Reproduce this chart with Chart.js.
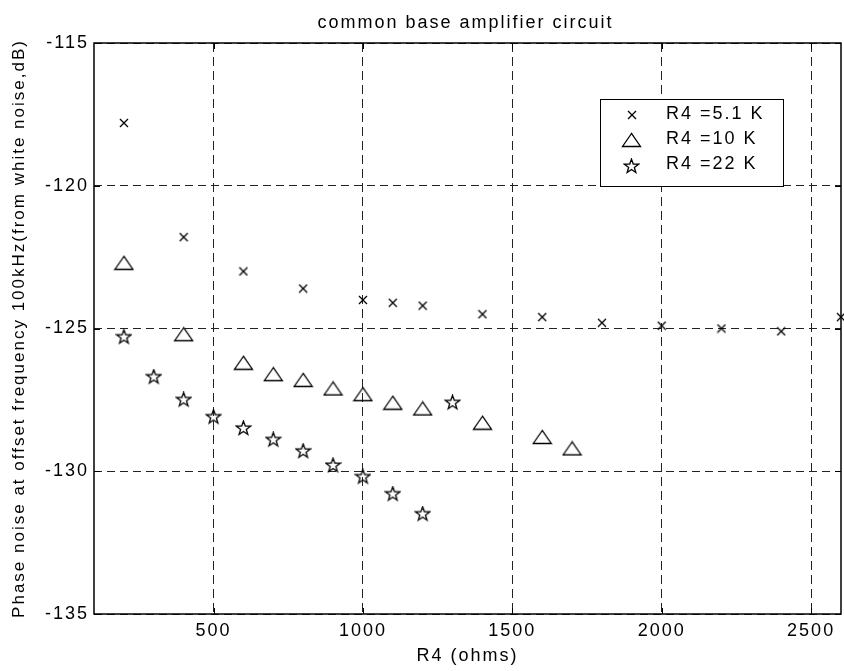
<!DOCTYPE html>
<html>
<head>
<meta charset="utf-8">
<title>common base amplifier circuit</title>
<script src="https://cdn.jsdelivr.net/npm/chart.js@4.4.0/dist/chart.umd.min.js"></script>
<style>
  html, body { margin: 0; padding: 0; background: #fff; }
  canvas { display: block; }
</style>
</head>
<body>
<canvas id="mycanvas" width="844" height="671"></canvas>
<script>
// tick labels
var xTicks = [500, 1000, 1500, 2000, 2500];
var yTicks = [-135, -130, -125, -120, -115];

// series
var seriesNames = ['R4 =5.1 K', 'R4 =10 K', 'R4 =22 K'];

var r51x = [200, 400, 600, 800, 1000, 1100, 1200, 1400, 1600, 1800, 2000, 2200, 2400, 2600];
var r51y = [-117.8, -121.8, -123.0, -123.6, -124.0, -124.1, -124.2, -124.5, -124.6, -124.8, -124.9, -125.0, -125.1, -124.6];

var r10x = [200, 400, 600, 700, 800, 900, 1000, 1100, 1200, 1400, 1600, 1700];
var r10y = [-122.7, -125.2, -126.2, -126.6, -126.8, -127.1, -127.3, -127.6, -127.8, -128.3, -128.8, -129.2];

var r22x = [200, 300, 400, 500, 600, 700, 800, 900, 1000, 1100, 1200, 1300];
var r22y = [-125.3, -126.7, -127.5, -128.1, -128.5, -128.9, -129.3, -129.8, -130.2, -130.8, -131.5, -127.6];

var FONT = '"Liberation Sans", Arial, sans-serif';
var SPACING = '2px';
var PLOT_RIGHT = 841;

function toPoints(xs, ys) {
  var pts = [];
  for (var i in xs) {
    pts.push({ x: xs[i], y: ys[i] });
  }
  return pts;
}

// little canvases used as marker shapes
function markCanvas(w, h, draw) {
  var c = document.createElement('canvas');
  c.width = w;
  c.height = h;
  var g = c.getContext('2d');
  g.strokeStyle = '#000';
  g.lineWidth = 1.3;
  draw(g);
  return c;
}

var crossMark = markCanvas(10, 10, function (g) {
  g.beginPath();
  g.moveTo(1, 1); g.lineTo(9, 9);
  g.moveTo(9, 1); g.lineTo(1, 9);
  g.stroke();
});

var triMark = markCanvas(21, 16, function (g) {
  g.beginPath();
  g.moveTo(10.5, 1.5);
  g.lineTo(1.5, 14.5);
  g.lineTo(19.5, 14.5);
  g.closePath();
  g.stroke();
});

var starMark = markCanvas(17, 17, function (g) {
  var cx = 8.5, cy = 8.5, ro = 7.4, ri = 3.0;
  g.beginPath();
  for (var k = 0; k < 10; k++) {
    var r = (k % 2 === 0) ? ro : ri;
    var a = -Math.PI / 2 + k * Math.PI / 5;
    var px = cx + r * Math.cos(a), py = cy + r * Math.sin(a);
    if (k === 0) g.moveTo(px, py); else g.lineTo(px, py);
  }
  g.closePath();
  g.stroke();
});

// MATLAB style text spacing, and stretch the plot box to the right edge
var spacing = {
  id: 'spacing',
  beforeUpdate: function (chart) { chart.ctx.letterSpacing = SPACING; },
  afterLayout: function (chart) {
    var a = chart.chartArea;
    var d = PLOT_RIGHT - a.right;
    if (d === 0) return;
    a.right = PLOT_RIGHT;
    a.width = a.right - a.left;
    var xs = chart.scales.x;
    xs.right += d;
    xs.width += d;
    xs.configure();
  },
  beforeDraw: function (chart) { chart.ctx.letterSpacing = SPACING; }
};

// axes box, inner tick marks, legend box
var frame = {
  id: 'frame',
  afterDraw: function (chart) {
    var ctx = chart.ctx;
    var a = chart.chartArea;
    var xs = chart.scales.x, ys = chart.scales.y;
    ctx.save();
    ctx.strokeStyle = '#000';
    ctx.lineWidth = 1;
    ctx.beginPath();
    xTicks.forEach(function (v) {
      var px = Math.round(xs.getPixelForValue(v)) + 0.5;
      ctx.moveTo(px, a.bottom); ctx.lineTo(px, a.bottom - 6);
      ctx.moveTo(px, a.top); ctx.lineTo(px, a.top + 6);
    });
    yTicks.forEach(function (v) {
      var py = Math.round(ys.getPixelForValue(v)) + 0.5;
      ctx.moveTo(a.left, py); ctx.lineTo(a.left + 6, py);
      ctx.moveTo(a.right, py); ctx.lineTo(a.right - 6, py);
    });
    ctx.stroke();

    ctx.lineWidth = 1.5;
    ctx.strokeRect(a.left, a.top, a.right - a.left, a.bottom - a.top);

    // legend
    ctx.fillStyle = '#fff';
    ctx.fillRect(600.5, 99.5, 183, 87);
    ctx.lineWidth = 1;
    ctx.strokeRect(600.5, 99.5, 183, 87);
    ctx.font = '18px ' + FONT;
    ctx.letterSpacing = SPACING;
    ctx.fillStyle = '#000';
    ctx.textBaseline = 'middle';
    ctx.textAlign = 'left';
    var markRows = [115, 140, 167];
    var textRows = [114, 139, 164];
    chart.data.datasets.forEach(function (ds, i) {
      var img = ds.pointStyle;
      ctx.drawImage(img, 632 - Math.round(img.width / 2), markRows[i] - Math.round(img.height / 2));
      ctx.fillText(ds.label, 666, textRows[i]);
    });
    ctx.restore();
  }
};

var chartdata = {
  datasets: [
    { label: seriesNames[0], data: toPoints(r51x, r51y), pointStyle: crossMark },
    { label: seriesNames[1], data: toPoints(r10x, r10y), pointStyle: triMark },
    { label: seriesNames[2], data: toPoints(r22x, r22y), pointStyle: starMark }
  ]
};
chartdata.datasets.forEach(function (ds) {
  ds.showLine = false;
  ds.clip = false;
  ds.pointRadius = 6;
  ds.borderColor = '#000';
  ds.backgroundColor = 'rgba(0,0,0,0)';
});

Chart.defaults.font.family = FONT;
Chart.defaults.color = '#000';

var ctx = document.getElementById('mycanvas');
var scatter = new Chart(ctx, {
  type: 'scatter',
  data: chartdata,
  plugins: [spacing, frame],
  options: {
    responsive: false,
    animation: false,
    events: [],
    layout: { padding: { top: 0, right: 3, bottom: 0, left: 0 } },
    plugins: {
      legend: { display: false },
      tooltip: { enabled: false },
      title: {
        display: true,
        text: 'common base amplifier circuit',
        color: '#000',
        fullSize: false,
        font: { size: 18, weight: 'normal' },
        padding: { top: 12, bottom: 9.4 }
      }
    },
    scales: {
      x: {
        type: 'linear',
        position: 'bottom',
        min: 100,
        max: 2600,
        afterBuildTicks: function (s) {
          s.ticks = xTicks.map(function (v) { return { value: v }; });
        },
        afterFit: function (s) { s.height = 57; },
        ticks: {
          color: '#000',
          font: { size: 18 },
          padding: 6,
          maxRotation: 0,
          callback: function (v) { return String(v); }
        },
        grid: { color: '#222', lineWidth: 1, drawTicks: false },
        border: { display: false, dash: [9, 5] },
        title: {
          display: true,
          text: 'R4 (ohms)',
          color: '#000',
          font: { size: 18 },
          padding: { top: 0, bottom: 4 }
        }
      },
      y: {
        type: 'linear',
        min: -135,
        max: -115,
        afterBuildTicks: function (s) {
          s.ticks = yTicks.map(function (v) { return { value: v }; });
        },
        afterFit: function (s) { s.width = 94; },
        ticks: {
          color: '#000',
          font: { size: 18 },
          padding: 5,
          callback: function (v) { return String(v); }
        },
        grid: { color: '#222', lineWidth: 1, drawTicks: false },
        border: { display: false, dash: [8, 5] },
        title: {
          display: true,
          text: 'Phase noise at offset frequency 100kHz(from white noise,dB)',
          color: '#000',
          font: { size: 17 },
          padding: { top: 9, bottom: 0 }
        }
      }
    }
  }
});
</script>
</body>
</html>
